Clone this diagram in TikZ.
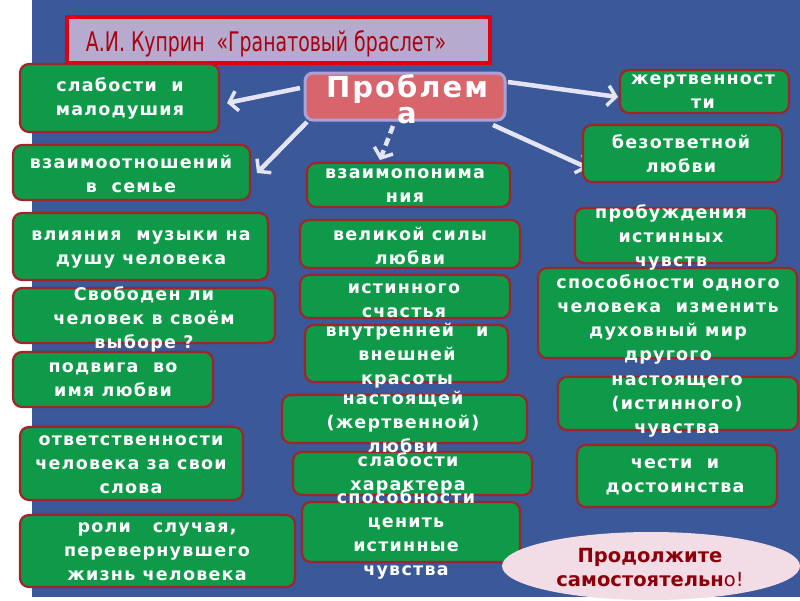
\documentclass[tikz,border=0pt]{standalone}
\usepackage{fontspec}
\usetikzlibrary{arrows.meta,shapes.geometric}
\newfontfamily\bxf{DejaVu Sans}[LetterSpace=7]
\newfontfamily\ttlf{DejaVu Sans}[FakeStretch=0.70]
\newfontfamily\elf{DejaVu Sans}
\definecolor{bgblue}{RGB}{59,88,152}
\definecolor{gfill}{RGB}{14,154,72}
\definecolor{gline}{RGB}{160,36,40}
\definecolor{tfill}{RGB}{182,171,206}
\definecolor{tline}{RGB}{226,0,16}
\definecolor{tred}{RGB}{170,0,16}
\definecolor{pfill}{RGB}{216,100,108}
\definecolor{pline}{RGB}{170,162,214}
\definecolor{arr}{RGB}{228,228,244}
\definecolor{efill}{RGB}{242,221,230}
\definecolor{etext}{RGB}{140,0,10}
\tikzset{
  gbox/.style={draw=gline, line width=2.2pt, fill=gfill, rounded corners=9pt, inner sep=0pt},
  btxt/.style={text=white, align=center, inner sep=0pt, font=\bxf\bfseries\fontsize{17.5}{24}\selectfont},
  arrw/.style={draw=arr, line width=4.5pt, -{Straight Barb[length=8pt,width=20pt,line width=3.5pt]}},
}
\newcommand\gboxat[5]{\node[gbox, minimum width={(#4-#2)*1pt}, minimum height={(#5-#3)*1pt}] (#1) at ({(#2+#4)/2},{(#3+#5)/2}) {};}
\begin{document}
\begin{tikzpicture}[x=1pt,y=-1pt]
\useasboundingbox (0,0) rectangle (800,600);
\fill[white] (0,0) rectangle (800,600);
\fill[bgblue] (32,0) rectangle (800,597);
% title
\node[draw=tline, line width=4pt, fill=tfill, minimum width=423pt, minimum height=46pt, inner sep=0pt] (title) at (278.5,40) {};
\node[text=tred, font=\ttlf\fontsize{27}{30}\selectfont, inner sep=0pt] (titletxt) at (266,44) {А.И. Куприн \ «Гранатовый браслет»};
% problem box
\node[draw=pline, line width=3pt, fill=pfill, rounded corners=8pt, minimum width=200pt, minimum height=47pt, inner sep=0pt] (prob) at (405,96.5) {};
% arrows
\coordinate (a1s) at (300,88); \coordinate (a1e) at (227,103);
\coordinate (a2s) at (307,122); \coordinate (a2e) at (257,173);
\coordinate (a3s) at (393,126); \coordinate (a3e) at (380,160);
\coordinate (a4s) at (508,82); \coordinate (a4e) at (618,97);
\coordinate (a5s) at (493,125); \coordinate (a5e) at (588,168);
\draw[arrw] (a1s) -- (a1e);
\draw[arrw] (a2s) -- (a2e);
\draw[arrw, dash pattern=on 8pt off 5pt] (a3s) -- (a3e);
\draw[arrw] (a4s) -- (a4e);
\draw[arrw] (a5s) -- (a5e);
\node[text=white, align=center, inner sep=0pt, font=\bxf\bfseries\fontsize{29}{26}\selectfont] (probtxt) at (407,99) {Проблем\\а};
% left column
\gboxat{b1}{20}{64}{219}{132}
\gboxat{b2}{13}{145}{250}{200}
\gboxat{b3}{13}{213}{268}{280}
\gboxat{b4}{13}{288}{275}{343}
\gboxat{b5}{13}{352}{213}{407}
\gboxat{b6}{20}{427}{243}{500}
\gboxat{b7}{20}{515}{295}{587}
% middle column
\gboxat{b8}{307}{163}{510}{207}
\gboxat{b9}{300}{220}{520}{268}
\gboxat{b10}{300}{275}{510}{318}
\gboxat{b11}{305}{325}{508}{382}
\gboxat{b12}{282}{395}{527}{443}
\gboxat{b13}{293}{452}{532}{495}
\gboxat{b14}{302}{502}{520}{562}
% right column
\gboxat{b15}{620}{70}{789}{113}
\gboxat{b16}{583}{125}{782}{182}
\gboxat{b17}{575}{208}{777}{263}
\gboxat{b18}{538}{268}{797}{358}
\gboxat{b19}{558}{377}{798}{430}
\gboxat{b20}{577}{445}{777}{507}
\node[ellipse, fill=efill, minimum width=298pt, minimum height=68pt, inner sep=0pt] (ell) at (651,566) {};
% texts
\node[btxt] (t1) at (120,98) {слабости \ и\\малодушия};
\node[btxt] (t2) at (131,174) {взаимоотношений\\в \ семье};
\node[btxt] (t3) at (141,249) {влияния \ музыки на\\душу человека};
\node[btxt] (t4) at (144,319) {Свободен ли\\человек в своём\\выборе ?};
\node[btxt] (t5) at (113,380) {подвига \ во\\имя любви};
\node[btxt] (t6) at (131,465) {ответственности\\человека за свои\\слова};
\node[btxt] (t7) at (157,552) {роли \ \ случая,\\перевернувшего\\жизнь человека};
\node[btxt] (t8) at (405,186) {взаимопонима\\ния};
\node[btxt] (t9) at (410,246) {великой силы\\любви};
\node[btxt] (t10) at (404,301) {истинного\\счастья};
\node[btxt] (t11) at (407,356) {внутренней \ \ и\\внешней\\красоты};
\node[btxt] (t12) at (403,422) {настоящей\\(жертвенной)\\любви};
\node[btxt] (t13) at (408,473) {слабости\\характера};
\node[btxt] (t14) at (406,534) {способности\\ценить\\истинные\\чувства};
\node[btxt] (t15) at (703,92) {жертвенност\\ти};
\node[btxt] (t16) at (681,154) {безответной\\любви};
\node[btxt] (t17) at (671,237) {пробуждения\\истинных\\чувств};
\node[btxt] (t18) at (668,319) {способности одного\\человека \ изменить\\духовный мир\\другого};
\node[btxt] (t19) at (677,406) {настоящего\\(истинного)\\чувства};
\node[btxt] (t20) at (675,477) {чести \ и\\достоинства};
\node[text=etext, align=center, inner sep=0pt, font=\elf\bfseries\fontsize{19.5}{24}\selectfont] (t21) at (650,568) {Продолжите\\самостоятельн{\mdseries о!}};
\end{tikzpicture}
\end{document}
